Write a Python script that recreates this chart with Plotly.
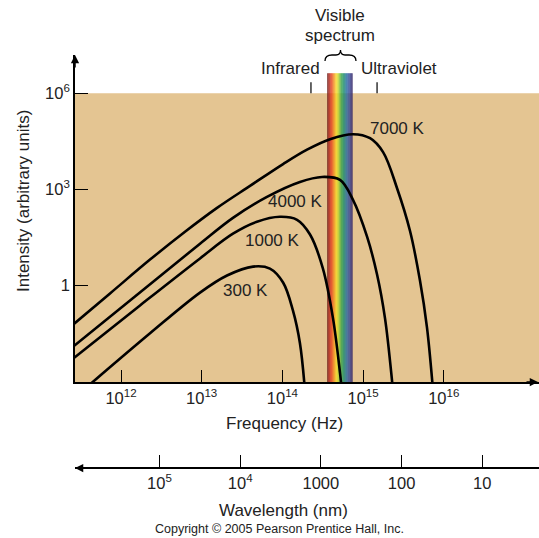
import math
import plotly.graph_objects as go

# ---------------- data ----------------
FREQ_7000 = [2.34e11, 7.31e11, 2.29e12, 6.21e12, 1.55e13, 3.97e13, 1.02e14, 2.02e14, 3.89e14,
             7.50e14, 1.22e15, 1.77e15, 2.63e15, 3.81e15, 5.07e15, 6.19e15, 7.35e15]
INT_7000 = [0.050, 0.565, 6.42, 47.5, 264, 1.28e3, 6.15e3, 1.73e4, 3.67e4,
            5.25e4, 3.94e4, 1.45e4, 1.10e3, 51, 1.43, 0.0497, 5.5e-4]

FREQ_4000 = [2.33e11, 1.49e12, 9.53e12, 2.44e13, 6.44e13, 1.65e14, 3.10e14,
             5.18e14, 7.50e14, 1.12e15, 1.49e15, 1.87e15, 2.28e15, 2.34e15]
INT_4000 = [0.0103, 0.455, 20.1, 129, 581, 1.70e3, 2.43e3,
            1.96e3, 469, 33.3, 2.20, 0.0944, 1.12e-3, 5.5e-4]

FREQ_1000 = [2.33e11, 1.72e12, 9.53e12, 2.44e13, 4.84e13, 9.33e13, 1.52e14, 2.20e14,
             3.18e14, 4.24e14, 5.18e14, 5.48e14]
INT_1000 = [4.37e-3, 0.239, 7.00, 41.2, 97.2, 139, 112, 39.0,
            3.37, 0.0944, 1.85e-3, 4.8e-4]

FREQ_300 = [3.90e11, 2.29e12, 9.53e12, 2.06e13, 4.33e13, 7.01e13, 1.02e14, 1.35e14,
            1.65e14, 1.91e14]
INT_300 = [7.3e-4, 0.0323, 0.600, 2.05, 3.89, 3.37, 1.24, 0.167,
           0.0158, 4.8e-4]

CURVE_LABELS = ["7000 K", "4000 K", "1000 K", "300 K"]

FREQ_TICKS = [1e12, 1e13, 1e14, 1e15, 1e16]
FREQ_TICK_TEXT = ["10<sup>12</sup>", "10<sup>13</sup>", "10<sup>14</sup>",
                  "10<sup>15</sup>", "10<sup>16</sup>"]
INT_TICKS = [1, 1e3, 1e6]
INT_TICK_TEXT = ["1", "10<sup>3</sup>", "10<sup>6</sup>"]
WL_TICKS = [1e5, 1e4, 1000, 100, 10]
WL_TICK_TEXT = ["10<sup>5</sup>", "10<sup>4</sup>", "1000", "100", "10"]

VISIBLE_BAND_HZ = [3.6e14, 7.4e14]
IR_UV_MARKS_HZ = [2.26e14, 1.49e15]
C_NM_HZ = 2.998e17  # wavelength(nm) * frequency(Hz)

# ---------------- layout geometry ----------------
W, H = 539, 538
ML, MR, MT, MB = 75, 0, 55, 40
PLOT_BOTTOM_PX = 382
WL_AXIS_PX = 468
X_RANGE = [11.43, 17.18]      # log10 Hz
Y_RANGE = [-3.01, 7.19]       # log10 intensity
paper_h = H - MT - MB
paper_w = W - ML - MR
y_dom0 = (H - MB - PLOT_BOTTOM_PX) / paper_h
wl_pos = (H - MB - WL_AXIS_PX) / paper_h


def P(xpx, ypx):
    return (xpx - ML) / paper_w, (H - MB - ypx) / paper_h


FONT = "Liberation Sans, Arial, Helvetica, sans-serif"

fig = go.Figure()

for fx, iy in [(FREQ_7000, INT_7000), (FREQ_4000, INT_4000),
               (FREQ_1000, INT_1000), (FREQ_300, INT_300)]:
    fig.add_trace(go.Scatter(x=fx, y=iy, mode="lines",
                             line=dict(color="black", width=2.6, shape="spline", smoothing=1.0),
                             hoverinfo="skip", showlegend=False))

# invisible trace on the wavelength axis
fig.add_trace(go.Scatter(x=[10, 1e5], y=[1, 1], xaxis="x2", yaxis="y", mode="markers",
                         marker=dict(opacity=0), hoverinfo="skip", showlegend=False))

shapes = []
# tan background of the plotting region
shapes.append(dict(type="rect", xref="paper", yref="y", x0=0, x1=1,
                   y0=10 ** Y_RANGE[0], y1=1e6, fillcolor="#e4c592",
                   line=dict(width=0), layer="below"))

# rainbow band
stops = [(0.00, (95, 28, 22)), (0.07, (170, 35, 25)), (0.16, (228, 62, 30)),
         (0.26, (242, 135, 30)), (0.36, (250, 218, 35)), (0.45, (185, 212, 50)),
         (0.55, (60, 165, 70)), (0.65, (25, 142, 105)), (0.76, (35, 110, 160)),
         (0.88, (55, 70, 150)), (1.00, (52, 36, 100))]


def col(t):
    for (a, ca), (b, cb) in zip(stops[:-1], stops[1:]):
        if a <= t <= b:
            f = (t - a) / (b - a)
            c = [round(ca[i] + f * (cb[i] - ca[i])) for i in range(3)]
            return "rgb(%d,%d,%d)" % tuple(c)
    return "rgb(52,36,100)"


N = 40
la, lb = math.log10(VISIBLE_BAND_HZ[0]), math.log10(VISIBLE_BAND_HZ[1])
band_top = 10 ** 6.62
for i in range(N):
    x0 = 10 ** (la + (lb - la) * i / N)
    x1 = 10 ** (la + (lb - la) * (i + 1) / N)
    shapes.append(dict(type="rect", xref="x", yref="y", x0=x0, x1=x1 * 1.002,
                       y0=10 ** Y_RANGE[0], y1=band_top, fillcolor=col((i + 0.5) / N),
                       line=dict(width=0), layer="below"))

# infrared / ultraviolet tick marks
for f in IR_UV_MARKS_HZ:
    shapes.append(dict(type="line", xref="x", yref="y", x0=f, x1=f, y0=10 ** 6.0, y1=10 ** 6.34,
                       line=dict(color="black", width=1.2)))

# brace over the visible band
pts = [(325, 61), (325, 55), (332, 55), (336, 55), (340.5, 55), (340.5, 50),
       (340.5, 55), (345, 55), (349, 55), (356, 55), (356, 61)]
pp = [P(x, y) for x, y in pts]
path = ("M {0[0]},{0[1]} Q {1[0]},{1[1]} {2[0]},{2[1]} L {3[0]},{3[1]} "
        "Q {4[0]},{4[1]} {5[0]},{5[1]} Q {6[0]},{6[1]} {7[0]},{7[1]} "
        "L {8[0]},{8[1]} Q {9[0]},{9[1]} {10[0]},{10[1]}").format(*pp)
shapes.append(dict(type="path", xref="paper", yref="paper", path=path,
                   line=dict(color="black", width=1.3)))

annotations = []


def txt(text, xpx, ypx, size=17, angle=0):
    x, y = P(xpx, ypx)
    annotations.append(dict(text=text, x=x, y=y, xref="paper", yref="paper",
                            showarrow=False, xanchor="center", yanchor="middle",
                            textangle=angle, font=dict(family=FONT, size=size, color="#222")))


txt(CURVE_LABELS[0], 397.5, 128)
txt(CURVE_LABELS[1], 295.5, 202)
txt(CURVE_LABELS[2], 272, 240)
txt(CURVE_LABELS[3], 245.5, 290)
txt("Infrared", 290.5, 69)
txt("Ultraviolet", 398.5, 69)
txt("Visible", 340, 15.5)
txt("spectrum", 340, 36)
txt("Frequency (Hz)", 284, 423)
txt("Wavelength (nm)", 283.5, 510)
txt("Intensity (arbitrary units)", 23, 201, angle=-90)
txt("Copyright © 2005 Pearson Prentice Hall, Inc.", 279, 529, size=12.5)

# axis arrows
for (x, y, ax, ay) in [(0, 1, 0, 14), (1, y_dom0, -14, 0), (0, wl_pos, 14, 0)]:
    annotations.append(dict(x=x, y=y, xref="paper", yref="paper", text="", showarrow=True,
                            ax=ax, ay=ay, arrowhead=2, arrowsize=1.1, arrowwidth=1.5,
                            arrowcolor="black"))

tickfont = dict(family=FONT, size=16.5, color="#222")

fig.update_layout(
    width=W, height=H,
    margin=dict(l=ML, r=MR, t=MT, b=MB, pad=0),
    paper_bgcolor="white", plot_bgcolor="white",
    showlegend=False,
    shapes=shapes, annotations=annotations,
    xaxis=dict(type="log", range=X_RANGE, tickvals=FREQ_TICKS, ticktext=FREQ_TICK_TEXT,
               ticks="inside", ticklen=12, tickwidth=1.3, tickcolor="black",
               showline=True, linecolor="black", linewidth=1.6, showgrid=False,
               zeroline=False, tickfont=tickfont, anchor="y", fixedrange=True),
    yaxis=dict(type="log", range=Y_RANGE, domain=[y_dom0, 1], tickvals=INT_TICKS,
               ticktext=INT_TICK_TEXT, ticks="inside", ticklen=13, tickwidth=1.3,
               tickcolor="black", showline=True, linecolor="black", linewidth=1.6,
               showgrid=False, zeroline=False, tickfont=tickfont, fixedrange=True),
    xaxis2=dict(type="log",
                range=[math.log10(C_NM_HZ) - X_RANGE[0], math.log10(C_NM_HZ) - X_RANGE[1]],
                overlaying="x", anchor="free", position=wl_pos, side="bottom",
                tickvals=WL_TICKS, ticktext=WL_TICK_TEXT, ticks="inside", ticklen=12,
                tickwidth=1.3, tickcolor="black", showline=True, linecolor="black",
                linewidth=1.6, showgrid=False, zeroline=False, tickfont=tickfont,
                fixedrange=True),
)

fig.write_html("out.html", config={"displayModeBar": False},
               post_script="document.body.style.margin='0';document.body.style.overflow='hidden';")
